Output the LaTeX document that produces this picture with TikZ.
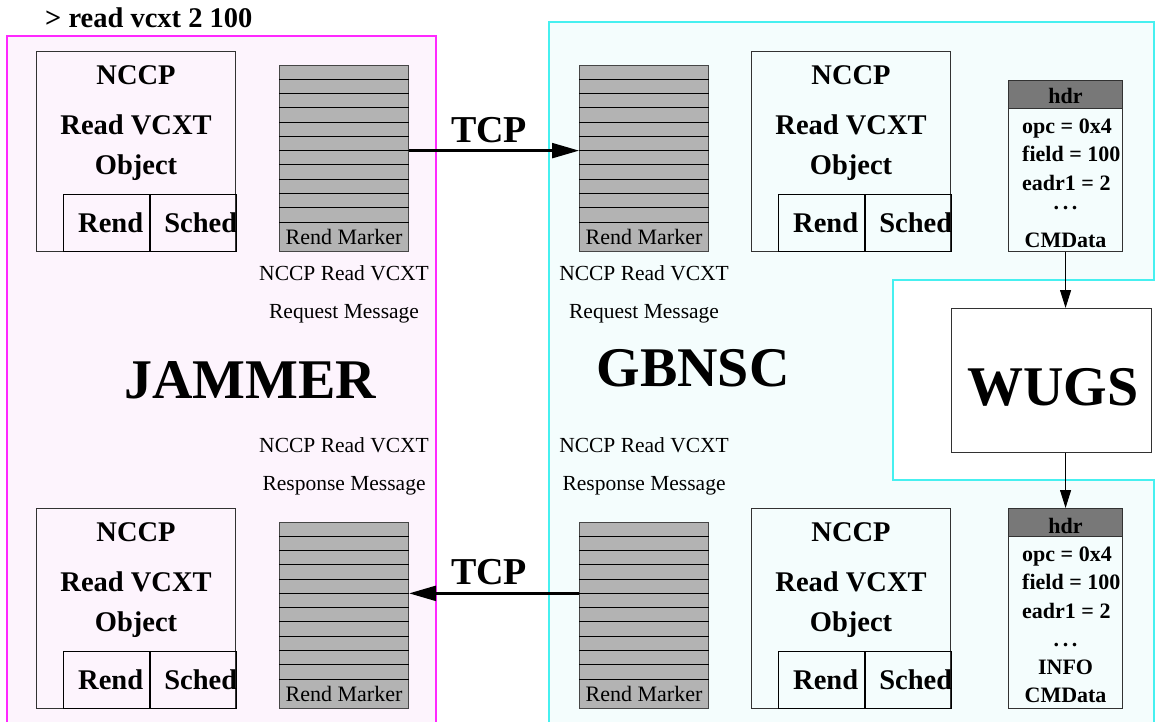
\documentclass[tikz,border=0pt]{standalone}
\usepackage{fontspec}
\setmainfont{Liberation Serif}
\usetikzlibrary{arrows.meta,calc}

\definecolor{jamfill}{RGB}{253,244,253}
\definecolor{jamline}{RGB}{255,40,255}
\definecolor{gbfill}{RGB}{244,253,253}
\definecolor{gbline}{RGB}{70,240,240}
\definecolor{qfill}{RGB}{179,179,179}
\definecolor{qline}{RGB}{70,70,70}
\definecolor{hdrfill}{RGB}{120,120,120}
\definecolor{boxline}{RGB}{50,50,50}

\newcommand\fsz[1]{\fontsize{#1}{#1}\selectfont}

\tikzset{
  objbox/.style={draw=boxline, line width=1.1pt, minimum width=199pt, minimum height=200pt, inner sep=0pt},
  subcell/.style={draw=black, line width=1.1pt, minimum width=86pt, minimum height=57pt, inner sep=0pt},
  objtext/.style={inner sep=0pt, font=\fsz{28.5}\bfseries},
  queuebox/.style={draw=qline, fill=qfill, line width=1.1pt, minimum width=129pt, minimum height=186pt, inner sep=0pt},
  stripe/.style={draw=black, line width=0.9pt},
  markertext/.style={inner sep=0pt, font=\fsz{22}},
  msgtext/.style={inner sep=0pt, font=\fsz{21.5}},
  hdrbox/.style={draw=boxline, line width=1.1pt, minimum width=114pt, inner sep=0pt},
  hdrhead/.style={draw=boxline, fill=hdrfill, line width=1.1pt, minimum width=114pt, minimum height=28pt, inner sep=0pt},
  hdrtext/.style={inner sep=0pt, font=\fsz{22}\bfseries},
  dotstext/.style={inner sep=0pt, font=\fsz{22}\bfseries, text height=3pt, text depth=0pt},
  biglabel/.style={inner sep=0pt, font=\fsz{56}\bfseries},
  tcptext/.style={inner sep=0pt, font=\fsz{38}\bfseries},
  tcparrow/.style={line width=2.3pt, -{Triangle[length=27pt,width=15pt]}},
  thinarrow/.style={line width=1pt, -{Triangle[length=18pt,width=11pt]}},
}

% NCCP object box: name, left x, top y
\newcommand\nccpobj[3]{%
  \node[objbox, anchor=north west] (#1) at (#2,#3) {};
  \node[subcell, anchor=south west] (#1-rend) at ($(#1.south west)+(27,0)$) {};
  \node[subcell, anchor=south west] (#1-sched) at (#1-rend.south east) {};
  \node[objtext, anchor=base] (#1-t1) at ($(#1.north)+(0,33)$) {NCCP};
  \node[objtext, anchor=base] (#1-t2) at ($(#1.north)+(0,83)$) {Read VCXT};
  \node[objtext, anchor=base] (#1-t3) at ($(#1.north)+(0,123)$) {Object};
  \node[objtext, anchor=base west] (#1-t4) at ($(#1-rend.south west)+(15,-20)$) {Rend};
  \node[objtext, anchor=base west] (#1-t5) at ($(#1-sched.south west)+(14,-20)$) {Sched};
}

% message queue with striped slots and a marker slot: name, left x, top y
\newcommand\msgqueue[3]{%
  \node[queuebox, anchor=north west] (#1) at (#2,#3) {};
  \foreach \k in {1,...,11}{
    \coordinate (#1-w\k) at ($(#1.north west)+(0,\k*14.27)$);
    \coordinate (#1-e\k) at ($(#1.north east)+(0,\k*14.27)$);
    \draw[stripe] (#1-w\k) -- (#1-e\k);
  }
  \node[markertext, anchor=base] (#1-mark) at ($(#1.south)+(0,-8)$) {Rend Marker};
}

\begin{document}
\begin{tikzpicture}[x=1pt, y=-1pt]
  \useasboundingbox (0,0) rectangle (1155,721);

  % host regions
  \path[draw=jamline, fill=jamfill, line width=1.3pt] (7,36) rectangle (436,740);
  \path[draw=gbline, fill=gbfill, line width=1.3pt]
    (549,22) -- (1154,22) -- (1154,280) -- (893,280) -- (893,480)
    -- (1154,480) -- (1154,740) -- (549,740) -- cycle;

  % command line
  \node[inner sep=0pt, anchor=base west, font=\fsz{28.5}\bfseries] (cmd) at (45,27) {> read vcxt 2 100};

  % region names
  \node[biglabel, anchor=base] (jam) at (250,398) {JAMMER};
  \node[biglabel, anchor=base] (gb) at (693,386) {GBNSC};

  % request path
  \nccpobj{objA}{36}{51}
  \msgqueue{qA}{279}{65}
  \msgqueue{qB}{579}{65}
  \nccpobj{objB}{751}{51}

  \node[msgtext, anchor=base] (reqA1) at ($(qA.south)+(0,28)$) {NCCP Read VCXT};
  \node[msgtext, anchor=base] (reqA2) at ($(qA.south)+(0,66)$) {Request Message};
  \node[msgtext, anchor=base] (reqB1) at ($(qB.south)+(0,28)$) {NCCP Read VCXT};
  \node[msgtext, anchor=base] (reqB2) at ($(qB.south)+(0,66)$) {Request Message};

  \draw[tcparrow] (qA-e6) -- (qB-w6);
  \node[tcptext, anchor=base] (tcpA) at (489,142) {TCP};

  % response path
  \nccpobj{objC}{36}{508}
  \msgqueue{qC}{279}{522}
  \msgqueue{qD}{579}{522}
  \nccpobj{objD}{751}{508}

  \node[msgtext, anchor=base] (resC1) at ($(qC.north)+(0,-70)$) {NCCP Read VCXT};
  \node[msgtext, anchor=base] (resC2) at ($(qC.north)+(0,-32)$) {Response Message};
  \node[msgtext, anchor=base] (resD1) at ($(qD.north)+(0,-70)$) {NCCP Read VCXT};
  \node[msgtext, anchor=base] (resD2) at ($(qD.north)+(0,-32)$) {Response Message};

  \draw[tcparrow] (qD-w5) -- (qC-e5);
  \node[tcptext, anchor=base] (tcpB) at (489,584) {TCP};

  % control cells
  \node[hdrbox, minimum height=171pt, anchor=north west] (cellA) at (1008,80) {};
  \node[hdrhead, anchor=north west] (cellA-h) at (cellA.north west) {};
  \node[hdrtext, anchor=base] (cellA-t0) at ($(cellA.north)+(0,23)$) {hdr};
  \node[hdrtext, anchor=base west] (cellA-t1) at ($(cellA.north west)+(14,53)$) {opc = 0x4};
  \node[hdrtext, anchor=base west] (cellA-t2) at ($(cellA.north west)+(14,81)$) {field = 100};
  \node[hdrtext, anchor=base west] (cellA-t3) at ($(cellA.north west)+(14,110)$) {eadr1 = 2};
  \node[dotstext, anchor=base] (cellA-t4) at ($(cellA.north)+(0,129)$) {.\,.\,.};
  \node[hdrtext, anchor=base] (cellA-t5) at ($(cellA.north)+(0,167)$) {CMData};

  \node[hdrbox, minimum height=200pt, anchor=north west] (cellB) at (1008,508) {};
  \node[hdrhead, anchor=north west] (cellB-h) at (cellB.north west) {};
  \node[hdrtext, anchor=base] (cellB-t0) at ($(cellB.north)+(0,25)$) {hdr};
  \node[hdrtext, anchor=base west] (cellB-t1) at ($(cellB.north west)+(14,53)$) {opc = 0x4};
  \node[hdrtext, anchor=base west] (cellB-t2) at ($(cellB.north west)+(14,81)$) {field = 100};
  \node[hdrtext, anchor=base west] (cellB-t3) at ($(cellB.north west)+(14,110)$) {eadr1 = 2};
  \node[dotstext, anchor=base] (cellB-t4) at ($(cellB.north)+(0,138)$) {.\,.\,.};
  \node[hdrtext, anchor=base] (cellB-t5) at ($(cellB.north)+(0,166)$) {INFO};
  \node[hdrtext, anchor=base] (cellB-t6) at ($(cellB.north)+(0,194)$) {CMData};

  % switch
  \node[draw=boxline, fill=white, line width=1.1pt, minimum width=200pt, minimum height=144pt,
        inner sep=0pt, anchor=north west] (wugs) at (951,308) {};
  \node[biglabel, anchor=base] (wugsname) at (1053,405) {WUGS};

  \draw[thinarrow] (cellA.south) -- (cellA.south |- wugs.north);
  \draw[thinarrow] (cellB.north |- wugs.south) -- (cellB.north);
\end{tikzpicture}
\end{document}
